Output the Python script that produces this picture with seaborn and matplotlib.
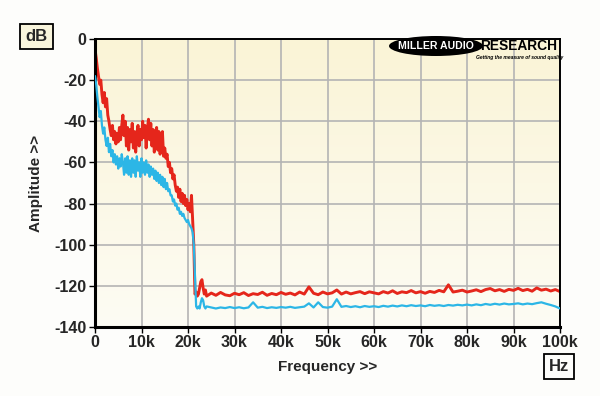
import numpy as np
import pandas as pd
import matplotlib
matplotlib.use("Agg")
import matplotlib.pyplot as plt
from matplotlib.patches import Ellipse
from matplotlib.colors import LinearSegmentedColormap
import seaborn as sns

# ---------------- data ----------------
# low-frequency region, 0..24 kHz in 0.25 kHz steps
freq_lo_khz = np.arange(0, 24.01, 0.25)
red_lo = [-5, -9, -14, -18, -22, -20, -27, -31, -26, -33, -29, -37, -40, -44, -47, -42,
          -49, -45, -51, -46,
          -50, -43, -49, -42, -37, -47, -40, -52, -43, -54, -44, -50, -41, -53, -45, -55,
          -46, -42, -52, -44, -49, -40, -48, -42, -53, -44, -39, -49, -41, -52, -44, -55,
          -47, -43, -54, -45, -56, -48, -45, -57,
          -53, -58, -56, -62,
          -60, -65, -63, -68, -66, -71, -74, -72, -77, -73, -79, -75, -80, -76, -81, -78,
          -83, -80, -84, -76, -88, -100, -124, -123, -125, -124, -121, -118, -117, -121,
          -124, -122, -125]
blue_lo = [-18, -22, -28, -33, -38, -35, -42, -46, -43, -49, -52, -48, -55, -51, -57, -54,
           -60, -56, -61, -57, -63, -58, -62, -56, -60, -66, -58, -65, -57, -66, -59, -67,
           -58, -65, -59, -67, -57, -64, -60, -67, -58, -65, -60, -66, -59, -65, -61, -67,
           -62, -66, -63, -68, -64, -69, -65, -70, -66, -71, -67, -72, -68, -73, -70, -74,
           -73, -76, -76, -79, -78, -81, -80, -83, -82, -85, -84, -86, -85, -87, -88, -89,
           -88, -90, -91, -92, -94, -100, -115, -130, -131, -130, -131, -128, -126, -127,
           -130, -131, -130]
# noise-floor region, 25..100 kHz in 1 kHz steps
freq_hi_khz = np.arange(25, 100.01, 1.0)
red_hi = [-123.5, -124.6, -123.2, -124.4, -124.8, -123.6, -124.3, -123.3, -124.7, -123.8,
          -124.2, -123.1, -124.6, -123.7, -124.3, -123.2, -124.1, -123.5, -124.4, -123.0,
          -124.0, -120.5, -123.6, -124.3, -123.0, -123.9, -123.4, -122.0, -124.0, -123.0,
          -123.9, -123.3, -122.8, -123.8, -122.9, -123.4, -123.9, -122.8, -123.5, -122.4,
          -123.7, -122.9, -123.3, -122.3, -123.4, -122.8, -123.6, -122.7, -123.2, -122.2,
          -122.9, -119.5, -123.0, -122.6, -122.1, -123.0, -122.5, -121.9, -122.8, -121.8,
          -121.3, -122.4, -121.8, -122.7, -121.7, -122.2, -121.2, -122.3, -121.7, -122.6,
          -121.0, -122.1, -121.6, -122.5, -121.8, -122.8]
blue_hi = [-130.5, -131, -130.5, -130.8, -130.3, -130.8, -130.4, -130.9, -130.5, -128,
           -130.6, -130.2, -130.8, -130.4, -130.7, -130.3, -130.6, -130.2, -130.7, -130.4,
           -130.1, -128.5, -130.5, -128, -130.3, -130.6, -130.1, -126.5, -130.2, -129.8,
           -130.3, -129.9, -130.4, -129.8, -130.2, -129.9, -130.3, -129.7, -130.1, -129.6,
           -130.0, -129.5, -129.9, -129.4, -129.8, -129.5, -129.9, -129.3, -129.7, -129.4,
           -129.8, -129.3, -129.6, -129.2, -129.5, -129.1, -129.5, -129.0, -129.4, -128.8,
           -129.2, -128.7, -129.1, -128.6, -129.0, -128.8, -128.5, -129.0, -128.6, -128.9,
           -128.4, -128.0, -128.7, -129.3, -130.0, -131.0]

x_ticks_khz = [0, 10, 20, 30, 40, 50, 60, 70, 80, 90, 100]
x_tick_labels = ["0", "10k", "20k", "30k", "40k", "50k", "60k", "70k", "80k", "90k", "100k"]
y_ticks = [0, -20, -40, -60, -80, -100, -120, -140]

RED = "#e5261b"
BLUE = "#2cb6e6"

freq_all = np.concatenate([freq_lo_khz, freq_hi_khz]) * 1000
df = pd.concat([
    pd.DataFrame({"freq": freq_all, "dB": list(red_lo) + list(red_hi), "ch": "red"}),
    pd.DataFrame({"freq": freq_all, "dB": list(blue_lo) + list(blue_hi), "ch": "blue"}),
])

sns.set_theme(style="white")
plt.rcParams["font.family"] = ["Liberation Sans", "DejaVu Sans"]
plt.rcParams["font.weight"] = "bold"

fig = plt.figure(figsize=(6.0, 3.96), dpi=100, facecolor="#fdfdfb")
ax = fig.add_axes([95 / 600, 1 - 327 / 396, 465 / 600, 288 / 396])

# gradient background
grad = np.linspace(0, 1, 256).reshape(-1, 1)
cmap = LinearSegmentedColormap.from_list("bg", ["#faf4d6", "#fdfcf4"])
ax.imshow(grad, extent=[0, 100000, -140, 0], aspect="auto", cmap=cmap, origin="upper", zorder=0)

sns.lineplot(data=df[df.ch == "blue"], x="freq", y="dB", color=BLUE, lw=1.6, ax=ax,
             estimator=None, sort=False, zorder=3)
sns.lineplot(data=df[df.ch == "red"], x="freq", y="dB", color=RED, lw=2.1, ax=ax,
             estimator=None, sort=False, zorder=2)

ax.set_xlim(0, 100000)
ax.set_ylim(-140, 0)
ax.set_xticks([v * 1000 for v in x_ticks_khz])
ax.set_xticklabels(x_tick_labels)
ax.set_yticks(y_ticks)
ax.set_yticklabels([str(v) for v in y_ticks])
ax.grid(True, color="#b4b4b4", lw=1.2)
for gl in ax.get_xgridlines() + ax.get_ygridlines():
    gl.set_zorder(1)
ax.tick_params(axis="both", which="major", direction="out", length=4, width=1, color="black",
               labelsize=11.5, pad=2, bottom=True, left=True)
for lab in ax.get_xticklabels() + ax.get_yticklabels():
    lab.set_fontweight("bold")
for side in ["left", "bottom"]:
    ax.spines[side].set_linewidth(2.2)
    ax.spines[side].set_color("black")
for side in ["top", "right"]:
    ax.spines[side].set_linewidth(1.4)
    ax.spines[side].set_color("black")

ax.set_xlabel("Frequency >>", fontsize=11, fontweight="bold", labelpad=7)
ax.set_ylabel("Amplitude >>", fontsize=11, fontweight="bold", labelpad=8)

# unit boxes
fig.text(36.5 / 600, 1 - 36.5 / 396, "dB", ha="center", va="center", fontsize=12, fontweight="bold",
         bbox=dict(boxstyle="square,pad=0.3", fc="#f9f5dc", ec="black", lw=1.3))
fig.text(559 / 600, 1 - 366.5 / 396, "Hz", ha="center", va="center", fontsize=12, fontweight="bold",
         bbox=dict(boxstyle="square,pad=0.3", fc="#fdfdfb", ec="black", lw=1.3))

# logo
ell = Ellipse((436 / 600, 1 - 46 / 396), 94 / 600, 20 / 396, transform=fig.transFigure,
              fc="black", ec="none", zorder=5)
fig.add_artist(ell)
fig.text(436 / 600, 1 - 46 / 396, "MILLER AUDIO", ha="center", va="center", color="white",
         fontsize=7.6, fontweight="bold", zorder=6)
fig.text(519 / 600, 1 - 46 / 396, "RESEARCH", ha="center", va="center", color="black",
         fontsize=9.9, fontweight="bold", zorder=6)
fig.text(520 / 600, 1 - 58 / 396, "Getting the measure of sound quality", ha="center", va="center",
         color="black", fontsize=3.6, fontweight="bold", style="italic", zorder=6)

fig.savefig("out.png", dpi=100, facecolor=fig.get_facecolor())
